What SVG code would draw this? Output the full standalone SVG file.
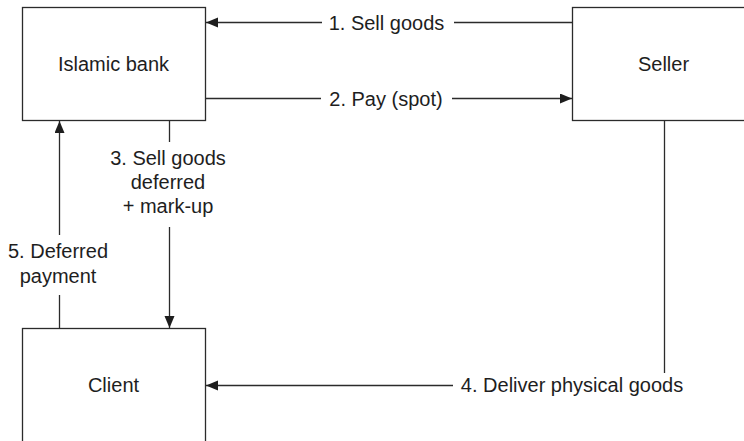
<svg xmlns="http://www.w3.org/2000/svg" width="744" height="441" viewBox="0 0 744 441">
  <style>
    .box { fill: #ffffff; stroke: #2b2b2b; stroke-width: 1.3; }
    .lbl { font-family: "Liberation Sans", Arial, sans-serif; font-size: 20px; fill: #1e1e1e; text-anchor: middle; }
    .conn { fill: none; stroke: #2b2b2b; stroke-width: 1.3; }
  </style>
  <defs>
    <marker id="arrow" markerUnits="userSpaceOnUse" markerWidth="13" markerHeight="11" refX="12" refY="5" orient="auto">
      <path d="M0,0 L12,5 L0,10 z" fill="#1e1e1e"/>
    </marker>
  </defs>
  <rect width="744" height="441" fill="#ffffff"/>

  <g id="bank">
    <rect class="box" x="22.5" y="7.5" width="183" height="113"/>
    <text class="lbl" x="113.5" y="71">Islamic bank</text>
  </g>

  <g id="seller">
    <rect class="box" x="572.5" y="7.5" width="183" height="113"/>
    <text class="lbl" x="663.5" y="71">Seller</text>
  </g>

  <g id="client">
    <rect class="box" x="22.5" y="328.5" width="183" height="120"/>
    <text class="lbl" x="113.5" y="391.5">Client</text>
  </g>

  <g id="connectors">
    <!-- 1. Sell goods: seller to bank -->
    <path class="conn" d="M572.5,22.5 H454"/>
    <path class="conn" d="M322,22.5 H206" marker-end="url(#arrow)"/>
    <text class="lbl" x="386.5" y="29.5">1. Sell goods</text>

    <!-- 2. Pay (spot): bank to seller -->
    <path class="conn" d="M206,98.5 H321"/>
    <path class="conn" d="M452,98.5 H572" marker-end="url(#arrow)"/>
    <text class="lbl" x="386" y="105.5">2. Pay (spot)</text>

    <!-- 3. Bank sells goods to client -->
    <path class="conn" d="M169.5,121 V142"/>
    <path class="conn" d="M169.5,227 V328" marker-end="url(#arrow)"/>
    <text class="lbl" x="168" y="165">3. Sell goods</text>
    <text class="lbl" x="168" y="189">deferred</text>
    <text class="lbl" x="168" y="213">+ mark-up</text>

    <!-- 4. Seller delivers goods to client -->
    <path class="conn" d="M664.5,121 V373"/>
    <path class="conn" d="M453,385.5 H206" marker-end="url(#arrow)"/>
    <text class="lbl" x="572" y="392">4. Deliver physical goods</text>

    <!-- 5. Client pays bank later -->
    <path class="conn" d="M59.5,328 V295"/>
    <path class="conn" d="M59.5,235 V121" marker-end="url(#arrow)"/>
    <text class="lbl" x="58" y="258">5. Deferred</text>
    <text class="lbl" x="58" y="283">payment</text>
  </g>
</svg>
